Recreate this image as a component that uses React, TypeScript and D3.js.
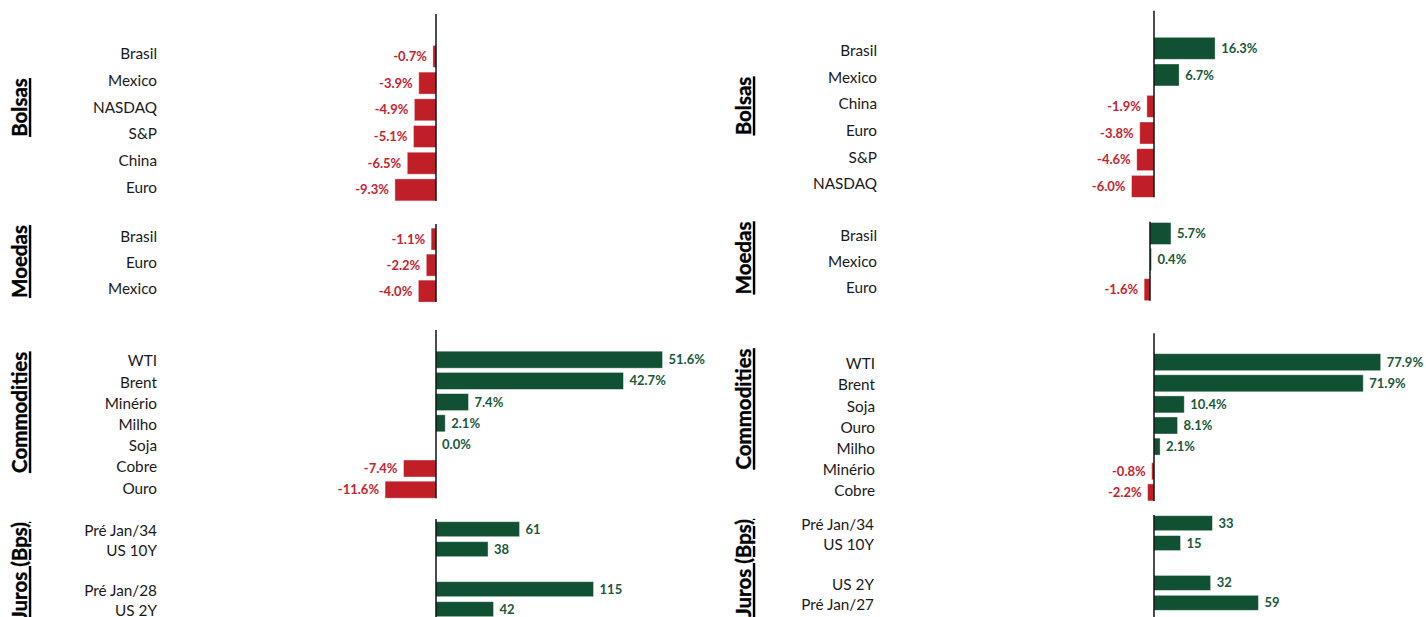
import React from "react";
import * as d3 from "d3";

// ---- data: year-to-date moves, left column ----
const lBolsasCats = ["Brasil", "Mexico", "NASDAQ", "S&P", "China", "Euro"];
const lBolsasVals = [-0.7, -3.9, -4.9, -5.1, -6.5, -9.3];
const lMoedasCats = ["Brasil", "Euro", "Mexico"];
const lMoedasVals = [-1.1, -2.2, -4.0];
const lCommCats = ["WTI", "Brent", "Minério", "Milho", "Soja", "Cobre", "Ouro"];
const lCommVals = [51.6, 42.7, 7.4, 2.1, 0.0, -7.4, -11.6];
const lJurosCats = ["Pré Jan/34", "US 10Y", "", "Pré Jan/28", "US 2Y"];
const lJurosVals: (number | null)[] = [61, 38, null, 115, 42];

// ---- data: right column ----
const rBolsasCats = ["Brasil", "Mexico", "China", "Euro", "S&P", "NASDAQ"];
const rBolsasVals = [16.3, 6.7, -1.9, -3.8, -4.6, -6.0];
const rMoedasCats = ["Brasil", "Mexico", "Euro"];
const rMoedasVals = [5.7, 0.4, -1.6];
const rCommCats = ["WTI", "Brent", "Soja", "Ouro", "Milho", "Minério", "Cobre"];
const rCommVals = [77.9, 71.9, 10.4, 8.1, 2.1, -0.8, -2.2];
const rJurosCats = ["Pré Jan/34", "US 10Y", "", "US 2Y", "Pré Jan/27"];
const rJurosVals: (number | null)[] = [33, 15, null, 32, 59];

const W = 1426;
const H = 617;
const GREEN = "#0f5132";
const RED = "#c01f28";
const GREEN_TXT = "#17593a";
const RED_TXT = "#c8232e";
const FONT = "Lato, 'Open Sans', sans-serif";

const locale = d3.formatLocale({
  decimal: ".",
  thousands: ",",
  grouping: [3],
  currency: ["", ""],
  minus: "-",
});
const pct = (v: number) => locale.format(".1f")(v) + "%";
const bps = (v: number) => locale.format("d")(v);

type PanelSpec = {
  title: string;
  cats: string[];
  vals: (number | null)[];
  fmt: (v: number) => string;
  c0: number; // centre of first category row
  step: number;
  barH: number;
  nudge: number; // gains and losses are two overlapping series, slightly offset
  axisTop: number;
  axisToBottom?: boolean;
  x0: number;
  ppu: number;
  labelX: number;
  titleX: number;
  titleY: number;
  titleAnchor: "middle" | "end";
};

const panels: PanelSpec[] = [
  { title: "Bolsas", cats: lBolsasCats, vals: lBolsasVals, fmt: pct, c0: 54, step: 26.7, barH: 22, nudge: 2.4, axisTop: 14, x0: 436, ppu: 4.42, labelX: 157, titleX: 27, titleY: 107.5, titleAnchor: "middle" },
  { title: "Moedas", cats: lMoedasCats, vals: lMoedasVals, fmt: pct, c0: 236.7, step: 26, barH: 22, nudge: 2.4, axisTop: 224, x0: 436, ppu: 4.42, labelX: 157, titleX: 27, titleY: 261.5, titleAnchor: "middle" },
  { title: "Commodities", cats: lCommCats, vals: lCommVals, fmt: pct, c0: 361.1, step: 21.2, barH: 17, nudge: 1.4, axisTop: 330, x0: 436, ppu: 4.39, labelX: 157, titleX: 27, titleY: 412.3, titleAnchor: "middle" },
  { title: "Juros (Bps)", cats: lJurosCats, vals: lJurosVals, fmt: bps, c0: 531, step: 20, barH: 15, nudge: 1.8, axisTop: 519, axisToBottom: true, x0: 436, ppu: 1.37, labelX: 157, titleX: 27, titleY: 522, titleAnchor: "end" },

  { title: "Bolsas", cats: rBolsasCats, vals: rBolsasVals, fmt: pct, c0: 50.65, step: 26.67, barH: 22, nudge: 2.35, axisTop: 10.7, x0: 1154, ppu: 3.75, labelX: 877, titleX: 751, titleY: 106, titleAnchor: "middle" },
  { title: "Moedas", cats: rMoedasCats, vals: rMoedasVals, fmt: pct, c0: 235.8, step: 25.8, barH: 22, nudge: 2.3, axisTop: 221.7, x0: 1150, ppu: 3.68, labelX: 877, titleX: 751, titleY: 258, titleAnchor: "middle" },
  { title: "Commodities", cats: rCommCats, vals: rCommVals, fmt: pct, c0: 364, step: 21.1, barH: 17, nudge: 1.8, axisTop: 333.3, x0: 1154, ppu: 2.91, labelX: 875, titleX: 751, titleY: 409, titleAnchor: "middle" },
  { title: "Juros (Bps)", cats: rJurosCats, vals: rJurosVals, fmt: bps, c0: 525, step: 19.9, barH: 15, nudge: 1.8, axisTop: 515, axisToBottom: true, x0: 1154, ppu: 1.77, labelX: 874, titleX: 751, titleY: 519, titleAnchor: "end" },
];

function Panel({ p }: { p: PanelSpec }) {
  const n = p.cats.length;
  const pad = (p.step - p.barH) / p.step;
  const start = p.c0 - p.step / 2;
  const y = d3
    .scaleBand<number>()
    .domain(d3.range(n))
    .range([start, start + n * p.step])
    .paddingInner(pad)
    .paddingOuter(pad / 2);
  const x = d3.scaleLinear().domain([0, 1]).range([p.x0, p.x0 + p.ppu]);
  const bw = y.bandwidth();
  const barTop = (i: number, v: number) => (y(i) as number) + (v >= 0 ? -p.nudge : p.nudge);
  const lastBottom = (y(n - 1) as number) + bw + p.nudge;
  const axisBottom = p.axisToBottom ? H : lastBottom;

  return (
    <g>
      {/* category labels */}
      {p.cats.map((c, i) => (
        <text
          key={"c" + i}
          x={p.labelX}
          y={(y(i) as number) + bw / 2}
          dy="0.35em"
          textAnchor="end"
          fontFamily={FONT}
          fontSize={15.3}
          fill="#1a1a1a"
        >
          {c}
        </text>
      ))}
      {/* bars */}
      {p.vals.map((v, i) =>
        v === null ? null : (
          <rect
            key={"b" + i}
            x={Math.min(x(0), x(v))}
            y={barTop(i, v)}
            width={Math.abs(x(v) - x(0))}
            height={bw}
            fill={v >= 0 ? GREEN : RED}
            stroke="#ffffff"
            strokeOpacity={0.5}
            strokeWidth={0.8}
          />
        )
      )}
      {/* value labels */}
      {p.vals.map((v, i) =>
        v === null ? null : (
          <text
            key={"v" + i}
            x={v >= 0 ? x(v) + 6 : x(v) - 6}
            y={barTop(i, v) + bw / 2}
            dy="0.35em"
            textAnchor={v >= 0 ? "start" : "end"}
            fontFamily={FONT}
            fontWeight={700}
            fontSize={13}
            fill={v >= 0 ? GREEN_TXT : RED_TXT}
          >
            {p.fmt(v)}
          </text>
        )
      )}
      {/* zero line */}
      <line x1={x(0)} x2={x(0)} y1={p.axisTop} y2={axisBottom} stroke="#000" strokeWidth={1.4} />
      {/* section title */}
      <text
        transform={`translate(${p.titleX},${p.titleY}) rotate(-90)`}
        textAnchor={p.titleAnchor}
        fontFamily={FONT}
        fontWeight={700}
        fontSize={20.5}
        fill="#000"
        stroke="#000"
        strokeWidth={0.35}
        textDecoration="underline"
      >
        {p.title}
      </text>
    </g>
  );
}

export default function App() {
  return (
    <svg
      width={W}
      height={H}
      viewBox={`0 0 ${W} ${H}`}
      style={{ position: "absolute", left: 0, top: 0, background: "#fff", display: "block" }}
    >
      <rect width={W} height={H} fill="#fff" />
      {panels.map((p, i) => (
        <Panel key={i} p={p} />
      ))}
    </svg>
  );
}
